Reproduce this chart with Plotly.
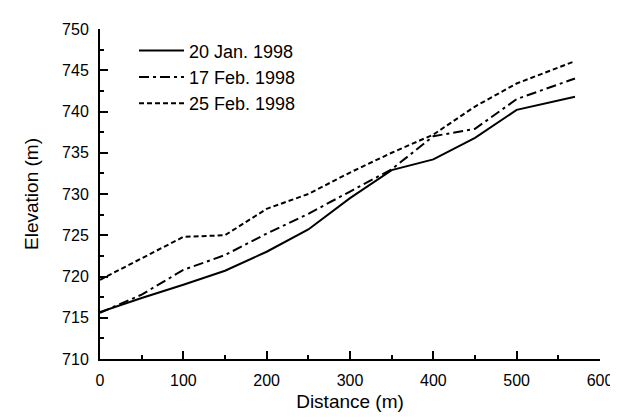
import plotly.graph_objects as go

distance = [0, 50, 100, 150, 200, 250, 300, 350, 400, 450, 500, 570]
jan20 = [715.7, 717.4, 719.0, 720.7, 723.0, 725.7, 729.5, 732.9, 734.2, 736.8, 740.2, 741.8]
feb17 = [715.6, 717.8, 720.8, 722.6, 725.2, 727.6, 730.3, 733.0, 737.0, 737.9, 741.5, 744.0]
feb25 = [719.6, 722.2, 724.8, 725.0, 728.2, 730.0, 732.6, 735.0, 737.2, 740.6, 743.4, 746.1]
names = ["20 Jan. 1998", "17 Feb. 1998", "25 Feb. 1998"]
dashes = ["solid", "10px,4px,3px,4px", "5px,3px"]

fig = go.Figure()
for y, name, dash in zip([jan20, feb17, feb25], names, dashes):
    fig.add_trace(go.Scatter(x=distance, y=y, mode="lines", name=name,
                             line=dict(color="black", width=2, dash=dash)))

font = dict(family="Liberation Sans, Arial, sans-serif", size=16, color="black")
fig.update_layout(
    width=618, height=420,
    margin=dict(l=92, r=26, t=21, b=69),
    paper_bgcolor="white", plot_bgcolor="white",
    font=font,
    legend=dict(x=0.068, y=0.99, xanchor="left", yanchor="top",
                bgcolor="rgba(0,0,0,0)", font=dict(size=18),
                tracegroupgap=0, itemwidth=45),
    showlegend=True,
)
fig.update_xaxes(range=[0, 600], tickvals=[0, 100, 200, 300, 400, 500, 600],
                 ticks="inside", ticklen=8, tickwidth=2, tickcolor="black",
                 minor=dict(tickvals=[50, 150, 250, 350, 450, 550], ticks="inside",
                            ticklen=4, tickwidth=2, tickcolor="black"),
                 showline=True, linecolor="black", linewidth=2, showgrid=False,
                 zeroline=False, ticklabelstandoff=6, automargin=False,
                 title=dict(text="Distance (m)", standoff=6, font=dict(size=19)),
                 tickfont=dict(size=16))
fig.update_yaxes(range=[710, 750], tickvals=[710, 715, 720, 725, 730, 735, 740, 745, 750],
                 ticks="inside", ticklen=8, tickwidth=2, tickcolor="black",
                 minor=dict(tickvals=[712.5, 717.5, 722.5, 727.5, 732.5, 737.5, 742.5, 747.5],
                            ticks="inside", ticklen=4, tickwidth=2, tickcolor="black"),
                 showline=True, linecolor="black", linewidth=2, showgrid=False,
                 zeroline=False, ticklabelstandoff=6, automargin=False,
                 title=dict(text="Elevation (m)", standoff=18, font=dict(size=19)),
                 tickfont=dict(size=16))

fig.write_html("out.html")
